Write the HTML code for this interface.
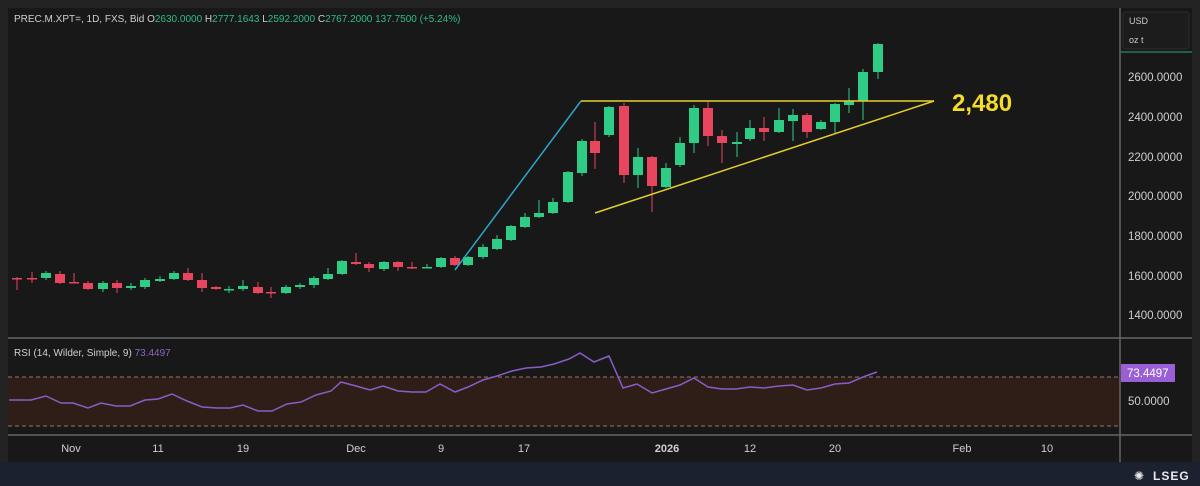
<!DOCTYPE html>
<html><head><meta charset="utf-8"><style>
html,body{margin:0;padding:0;background:#222;width:1200px;height:486px;overflow:hidden}
svg{display:block}
text{font-family:"Liberation Sans",sans-serif}
</style></head><body>
<svg id="s" width="1200" height="486" viewBox="0 0 1200 486" xmlns="http://www.w3.org/2000/svg">
<rect x="0" y="0" width="1200" height="486" fill="#232323"/>
<rect x="0" y="462" width="1200" height="24" fill="#1c2130"/>
<rect x="8" y="8" width="1184" height="454" fill="#181818"/>
<rect x="8" y="377" width="1112" height="49" fill="#2f1e17"/>
<line x1="8" y1="377" x2="1120" y2="377" stroke="#8c7c6a" stroke-dasharray="4,3" stroke-width="1"/>
<line x1="8" y1="426" x2="1120" y2="426" stroke="#8c7c6a" stroke-dasharray="4,3" stroke-width="1"/>
<line x1="8" y1="338" x2="1192" y2="338" stroke="#666" stroke-width="1.5"/>
<line x1="8" y1="435" x2="1192" y2="435" stroke="#666" stroke-width="1.5"/>
<line x1="1120" y1="8" x2="1120" y2="462" stroke="#666" stroke-width="1.5"/>
<rect x="1123" y="12" width="66" height="37" rx="3" fill="#1c1c1c" stroke="#2c2c2c"/>
<line x1="1121" y1="52" x2="1192" y2="52" stroke="#2aa877" stroke-width="1"/>
<text x="1129" y="24" fill="#ccc" font-size="9">USD</text>
<text x="1129" y="43" fill="#ccc" font-size="9">oz t</text>
<g fill="#cfcfcf" font-size="11.5">
<text x="1128" y="81">2600.0000</text>
<text x="1128" y="121">2400.0000</text>
<text x="1128" y="161">2200.0000</text>
<text x="1128" y="200">2000.0000</text>
<text x="1128" y="240">1800.0000</text>
<text x="1128" y="280">1600.0000</text>
<text x="1128" y="319">1400.0000</text>
<text x="1128" y="405">50.0000</text>
</g>
<rect x="1121" y="364" width="54" height="18" fill="#9a5fd6"/>
<text x="1127" y="377" fill="#fff" font-size="11.5">73.4497</text>
<g fill="#cfcfcf" font-size="11" text-anchor="middle">
<text x="71" y="452">Nov</text><text x="158" y="452">11</text><text x="243" y="452">19</text>
<text x="356" y="452">Dec</text><text x="441" y="452">9</text><text x="524" y="452">17</text>
<text x="667" y="452" font-weight="bold">2026</text><text x="750" y="452">12</text><text x="835" y="452">20</text>
<text x="962" y="452">Feb</text><text x="1047" y="452">10</text>
</g>
<text x="14" y="22" font-size="10" fill="#cfcfcf">PREC.M.XPT=, 1D, FXS, Bid <tspan fill="#cfcfcf"> O</tspan><tspan fill="#2ebd85">2630.0000</tspan><tspan fill="#cfcfcf">  H</tspan><tspan fill="#2ebd85">2777.1643</tspan><tspan fill="#cfcfcf">  L</tspan><tspan fill="#2ebd85">2592.2000</tspan><tspan fill="#cfcfcf">  C</tspan><tspan fill="#2ebd85">2767.2000  137.7500 (+5.24%)</tspan></text>
<text x="14" y="356" font-size="10" fill="#cfcfcf">RSI (14, Wilder, Simple, 9) <tspan fill="#8d66c4">73.4497</tspan></text>
<g id="c"></g>
<polyline fill="none" stroke="#8a5cc7" stroke-width="1.5" points="9,400 31,400 46,396 61,403 73,403 88,408 101,403 116,406 130,406 145,400 158,399 172,394 187,401 202,407 217,408 230,408 243,405 258,411 272,411 287,404 301,402 316,395 331,391 341,382 356,386 370,390 383,386 398,391 412,392 426,392 440,384 455,392 468,387 483,380 497,376 512,371 526,368 541,367 554,364 569,359 580,353 594,362 609,356 623,388 637,384 652,393 666,389 680,385 694,378 708,387 722,389 736,389 750,387 764,388 779,386 793,385 807,390 821,388 835,384 849,383 863,377 877,372"/>
<line x1="455" y1="270" x2="581" y2="101" stroke="#2aa7c9" stroke-width="1.5"/>
<line x1="581" y1="101" x2="934" y2="101" stroke="#e6cf2a" stroke-width="1.5"/>
<line x1="595" y1="213" x2="934" y2="101" stroke="#e6cf2a" stroke-width="1.5"/>
<text x="952" y="111" font-size="24" font-weight="bold" fill="#f3dc2a">2,480</text>
<text x="1153" y="480" font-size="12" font-weight="bold" fill="#e8e8e8" letter-spacing="1">LSEG</text>
<text x="1134" y="480" font-size="12" fill="#e8e8e8">✺</text>
</svg>
<script>
var d=[
[17,'r',278,278,277,290],[32,'r',278,278,272,283],[46,'g',273,278,271,280],[60,'r',274,283,271,284],[74,'r',282,282,273,283],
[88,'r',283,289,281,290],[103,'g',283,289,281,292],[117,'r',283,288,280,293],[131,'g',286,288,283,290],[145,'g',280,287,278,289],
[160,'g',279,281,276,282],[174,'g',273,279,271,280],[188,'r',273,280,268,281],[202,'r',280,288,273,292],[216,'r',287,289,286,290],
[229,'g',289,289,286,293],[243,'g',286,289,280,291],[258,'r',287,293,282,294],[271,'r',292,292,287,298],[286,'g',287,293,285,294],
[300,'g',285,287,283,289],[314,'g',278,285,276,288],[328,'g',274,279,268,280],[342,'g',261,274,260,275],[356,'r',262,264,253,265],
[369,'r',264,268,262,272],[384,'g',262,269,261,271],[398,'r',262,267,261,271],[412,'r',267,267,262,269],[427,'g',267,267,264,268],
[441,'g',258,267,257,268],[455,'r',258,265,256,266],[468,'g',257,265,256,266],[483,'g',247,257,244,259],[497,'g',239,249,235,250],
[511,'g',226,240,225,241],[525,'g',217,227,213,228],[539,'g',213,217,200,218],[553,'g',202,213,198,214],[568,'g',172,202,171,203],
[582,'g',141,173,139,176],[595,'r',141,153,122,169],[609,'g',107,135,106,137],[624,'r',106,175,103,183],[638,'g',157,175,148,188],
[652,'r',157,186,156,212],[666,'g',168,187,163,188],[680,'g',143,165,137,167],[694,'g',108,143,105,153],[708,'r',108,136,102,146],
[722,'r',136,143,130,163],[737,'g',142,144,132,157],[750,'g',128,139,120,141],[764,'r',128,132,117,141],[779,'g',120,132,108,133],
[793,'g',115,121,109,141],[807,'r',115,132,113,138],[821,'g',122,129,120,130],[835,'g',104,122,103,133],[849,'g',101,105,88,113],
[863,'g',72,101,69,120],[878,'g',44,72,43,79]];
var h='';d.forEach(function(c){var col=c[1]=='g'?'#2ecc85':'#e8455f';
h+='<line x1="'+c[0]+'" y1="'+c[4]+'" x2="'+c[0]+'" y2="'+c[5]+'" stroke="'+col+'" stroke-width="1"/>';
var bh=Math.max(c[3]-c[2],1.5);h+='<rect x="'+(c[0]-5)+'" y="'+c[2]+'" width="10" height="'+bh+'" fill="'+col+'"/>';});
document.getElementById('c').innerHTML=h;
</script>
</body></html>
